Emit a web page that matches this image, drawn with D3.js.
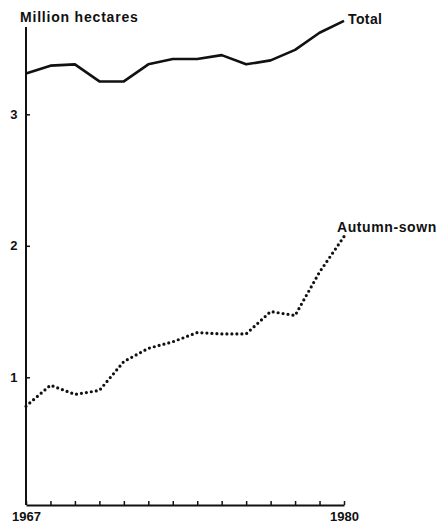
<!DOCTYPE html>
<html>
<head>
<meta charset="utf-8">
<script src="https://cdn.jsdelivr.net/npm/d3@7"></script>
<style>
  body { margin: 0; background: #fff; }
  text { font-family: "Liberation Sans", Arial, sans-serif; font-weight: bold; fill: #111; }
</style>
</head>
<body>
<script>
// data
var years = [1967, 1968, 1969, 1970, 1971, 1972, 1973, 1974, 1975, 1976, 1977, 1978, 1979, 1980];
var total = [3.31, 3.37, 3.38, 3.25, 3.25, 3.38, 3.42, 3.42, 3.45, 3.38, 3.41, 3.49, 3.62, 3.71];
var autumnSown = [0.78, 0.94, 0.87, 0.90, 1.12, 1.22, 1.27, 1.34, 1.33, 1.33, 1.50, 1.47, 1.80, 2.07];
var yTicks = [1, 2, 3];
var xLabels = {1967: "1967", 1980: "1980"};

var width = 446;
var height = 525;

var x = d3.scaleLinear()
    .domain([1967, 1980])
    .range([26, 344]);

var y = d3.scaleLinear()
    .domain([0, 3])
    .range([508.8, 114.3]);

var baseY = 505;

var svg = d3.select("body")
    .append("svg")
        .attr("width", width)
        .attr("height", height);

// x axis
svg.append("g")
    .attr("transform", "translate(0," + baseY + ")")
    .call(d3.axisBottom(x)
        .tickValues(years)
        .tickSizeInner(-4)
        .tickSizeOuter(0)
        .tickPadding(7)
        .tickFormat(d => xLabels[d] || ""))
    .call(g => g.select(".domain").attr("stroke", "#111").attr("stroke-width", 2))
    .call(g => g.selectAll(".tick line").attr("stroke", "#111").attr("stroke-width", 1.5))
    .call(g => g.selectAll("text")
        .attr("font-size", 13)
        .attr("font-family", null)
        .attr("fill", null));

// y axis
svg.append("line")
    .attr("x1", x(1967)).attr("x2", x(1967))
    .attr("y1", 27).attr("y2", baseY)
    .attr("stroke", "#111")
    .attr("stroke-width", 2);

svg.append("g")
    .attr("transform", "translate(" + x(1967) + ",0)")
    .call(d3.axisLeft(y)
        .tickValues(yTicks)
        .tickSizeInner(-4)
        .tickSizeOuter(0)
        .tickPadding(8.5)
        .tickFormat(d3.format("d")))
    .call(g => g.select(".domain").remove())
    .call(g => g.selectAll(".tick line").attr("stroke", "#111").attr("stroke-width", 1.5))
    .call(g => g.selectAll("text")
        .attr("font-size", 13)
        .attr("font-family", null)
        .attr("fill", null));

svg.append("text")
    .attr("x", 20)
    .attr("y", 21.5)
    .attr("font-size", 14)
    .attr("letter-spacing", 0.8)
    .text("Million hectares");

// lines
var line = d3.line()
    .x((d, i) => x(years[i]))
    .y(d => y(d));

svg.append("path")
    .datum(total)
    .attr("d", line)
    .attr("fill", "none")
    .attr("stroke", "#111")
    .attr("stroke-width", 2.6)
    .attr("stroke-linejoin", "round");

svg.append("path")
    .datum(autumnSown)
    .attr("d", line)
    .attr("fill", "none")
    .attr("stroke", "#111")
    .attr("stroke-width", 3.2)
    .attr("stroke-linecap", "round")
    .attr("stroke-dasharray", "0,5");

// series labels
svg.append("text")
    .attr("x", 348)
    .attr("y", 24)
    .attr("font-size", 14)
    .attr("letter-spacing", 0.4)
    .text("Total");

svg.append("text")
    .attr("x", 337)
    .attr("y", 232)
    .attr("font-size", 14)
    .attr("letter-spacing", 0.6)
    .text("Autumn-sown");
</script>
</body>
</html>
